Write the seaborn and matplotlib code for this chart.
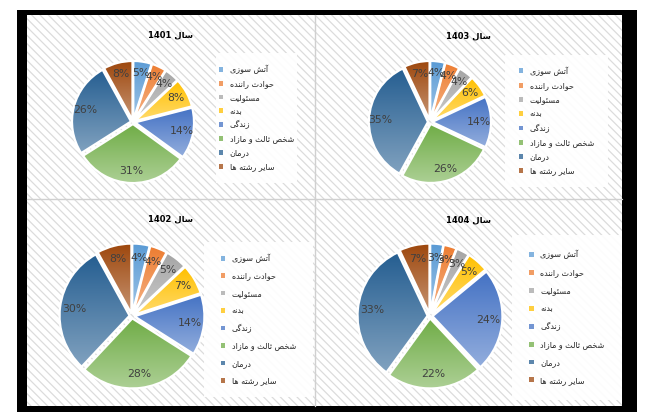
import re
import numpy as np
import matplotlib
matplotlib.use("Agg")
import matplotlib.pyplot as plt
from matplotlib.patches import Rectangle, Patch
from matplotlib.colors import to_rgb
import seaborn as sns

CATEGORIES = ["آتش سوزی", "حوادث راننده", "مسئولیت", "بدنه", "زندگی",
              "شخص ثالث و مازاد", "درمان", "سایر رشته ها"]
TITLE_WORD = "سال"
YEARS = ["1401", "1403", "1402", "1404"]
SHARE_1401 = [5, 4, 4, 8, 14, 31, 26, 8]
SHARE_1403 = [4, 4, 4, 6, 14, 26, 35, 7]
SHARE_1402 = [4, 4, 5, 7, 14, 28, 30, 8]
SHARE_1404 = [3, 3, 3, 5, 24, 22, 33, 7]
COLORS = ["#5B9BD5", "#ED7D31", "#A5A5A5", "#FFC000",
          "#4472C4", "#70AD47", "#255E91", "#9E480E"]

W, H = 653, 420

# isolated, final, initial, medial presentation forms
FORMS = {
    "ا": ("\uFE8D", "\uFE8E", None, None),
    "آ": ("\uFE81", "\uFE82", None, None),
    "ب": ("\uFE8F", "\uFE90", "\uFE91", "\uFE92"),
    "ت": ("\uFE95", "\uFE96", "\uFE97", "\uFE98"),
    "ث": ("\uFE99", "\uFE9A", "\uFE9B", "\uFE9C"),
    "ح": ("\uFEA1", "\uFEA2", "\uFEA3", "\uFEA4"),
    "خ": ("\uFEA5", "\uFEA6", "\uFEA7", "\uFEA8"),
    "د": ("\uFEA9", "\uFEAA", None, None),
    "ر": ("\uFEAD", "\uFEAE", None, None),
    "ز": ("\uFEAF", "\uFEB0", None, None),
    "س": ("\uFEB1", "\uFEB2", "\uFEB3", "\uFEB4"),
    "ش": ("\uFEB5", "\uFEB6", "\uFEB7", "\uFEB8"),
    "ص": ("\uFEB9", "\uFEBA", "\uFEBB", "\uFEBC"),
    "ل": ("\uFEDD", "\uFEDE", "\uFEDF", "\uFEE0"),
    "م": ("\uFEE1", "\uFEE2", "\uFEE3", "\uFEE4"),
    "ن": ("\uFEE5", "\uFEE6", "\uFEE7", "\uFEE8"),
    "ه": ("\uFEE9", "\uFEEA", "\uFEEB", "\uFEEC"),
    "و": ("\uFEED", "\uFEEE", None, None),
    "ئ": ("\uFE89", "\uFE8A", "\uFE8B", "\uFE8C"),
    "ی": ("\uFEEF", "\uFEF0", "\uFEF3", "\uFEF4"),
    "گ": ("\uFB92", "\uFB93", "\uFB94", "\uFB95"),
}


def shape_rtl(text):
    out = []
    for i, ch in enumerate(text):
        if ch not in FORMS:
            out.append(ch)
            continue
        prev = text[i - 1] if i > 0 else ""
        nxt = text[i + 1] if i + 1 < len(text) else ""
        dual = FORMS[ch][2] is not None
        join_prev = prev in FORMS and FORMS[prev][2] is not None
        join_next = dual and nxt in FORMS
        if join_prev and join_next:
            out.append(FORMS[ch][3])
        elif join_prev:
            out.append(FORMS[ch][1])
        elif join_next:
            out.append(FORMS[ch][2])
        else:
            out.append(FORMS[ch][0])
    tokens = re.findall(r"[0-9]+|.", "".join(out))
    return "".join(reversed(tokens))


def px_rect(x0, y0, x1, y1):
    return [x0 / W, 1 - y1 / H, (x1 - x0) / W, (y1 - y0) / H]


def gradient_wedge(ax, wedge, color):
    theta = np.radians(np.linspace(wedge.theta1, wedge.theta2, 60))
    cx, cy = wedge.center
    xs = np.r_[cx, cx + wedge.r * np.cos(theta)]
    ys = np.r_[cy, cy + wedge.r * np.sin(theta)]
    base = np.array(to_rgb(color))
    light = base + (1 - base) * 0.42
    t = np.linspace(0, 1, 64)[:, None]
    grad = base * (1 - t) + light * t
    img = ax.imshow(grad[:, None, :], extent=(xs.min(), xs.max(), ys.min(), ys.max()),
                    origin="upper", aspect="auto", zorder=0.5, interpolation="bilinear")
    img.set_clip_path(wedge)
    wedge.set_facecolor("none")


sns.set_theme(style="white")
plt.rcParams["font.family"] = ["DejaVu Sans"]
plt.rcParams["hatch.linewidth"] = 0.9

fig = plt.figure(figsize=(W / 100, H / 100), dpi=100)

bg = fig.add_axes([0, 0, 1, 1], zorder=-5)
bg.set_xlim(0, W)
bg.set_ylim(H, 0)
bg.axis("off")
bg.add_patch(Rectangle((17, 10), 620, 402, facecolor="black", lw=0))
bg.add_patch(Rectangle((27, 15), 595, 391, facecolor="white", edgecolor="#DCDCDC",
                       hatch="\\\\\\\\", lw=0))
bg.plot([315, 315], [15, 406], color="#D0D0D0", lw=1)
bg.plot([27, 622], [199, 199], color="#D0D0D0", lw=1)

panels = [
    # year, shares, pie centre, radius, title pos, legend box, label spacing
    (YEARS[0], SHARE_1401, (133, 122), 59, (170, 35), (216, 53, 297, 183), 0.6),
    (YEARS[1], SHARE_1403, (430, 122), 59, (468, 36), (505, 55, 608, 187), 0.65),
    (YEARS[2], SHARE_1402, (132, 316), 70, (170, 219), (204, 242, 313, 397), 1.05),
    (YEARS[3], SHARE_1404, (430, 316), 70, (468, 220), (512, 235, 622, 400), 1.1),
]

lim = 1.12
for year, shares, (cx, cy), r, (tx, ty), box, spacing in panels:
    half = r * lim
    ax = fig.add_axes(px_rect(cx - half, cy - half, cx + half, cy + half))
    ax.patch.set_visible(False)
    wedges, _, autotexts = ax.pie(
        shares, colors=COLORS, startangle=90, counterclock=False,
        explode=[0.035] * len(shares), autopct="%d%%", pctdistance=0.8,
        wedgeprops=dict(edgecolor="white", linewidth=1.6),
        textprops=dict(color="#404040", fontsize=7.8),
    )
    for wedge, color in zip(wedges, COLORS):
        gradient_wedge(ax, wedge, color)
    ax.set_xlim(-lim, lim)
    ax.set_ylim(-lim, lim)
    ax.set_aspect("equal")
    ax.axis("off")

    fig.text(tx / W, 1 - ty / H, shape_rtl(f"{TITLE_WORD} {year}"),
             ha="center", va="center", fontsize=6, fontweight="bold", color="black")

    lax = fig.add_axes(px_rect(*box))
    lax.set_facecolor((1, 1, 1, 0.92))
    lax.set_xticks([])
    lax.set_yticks([])
    for s in lax.spines.values():
        s.set_visible(False)
    handles = [Patch(facecolor=c, edgecolor="none", alpha=0.75) for c in COLORS]
    lax.legend(handles, [shape_rtl(c) for c in CATEGORIES], loc="center",
               frameon=False, fontsize=5.8, labelspacing=spacing, labelcolor="#262626",
               handlelength=0.55, handleheight=0.55, handletextpad=0.8)

fig.savefig("out.png", dpi=100)
